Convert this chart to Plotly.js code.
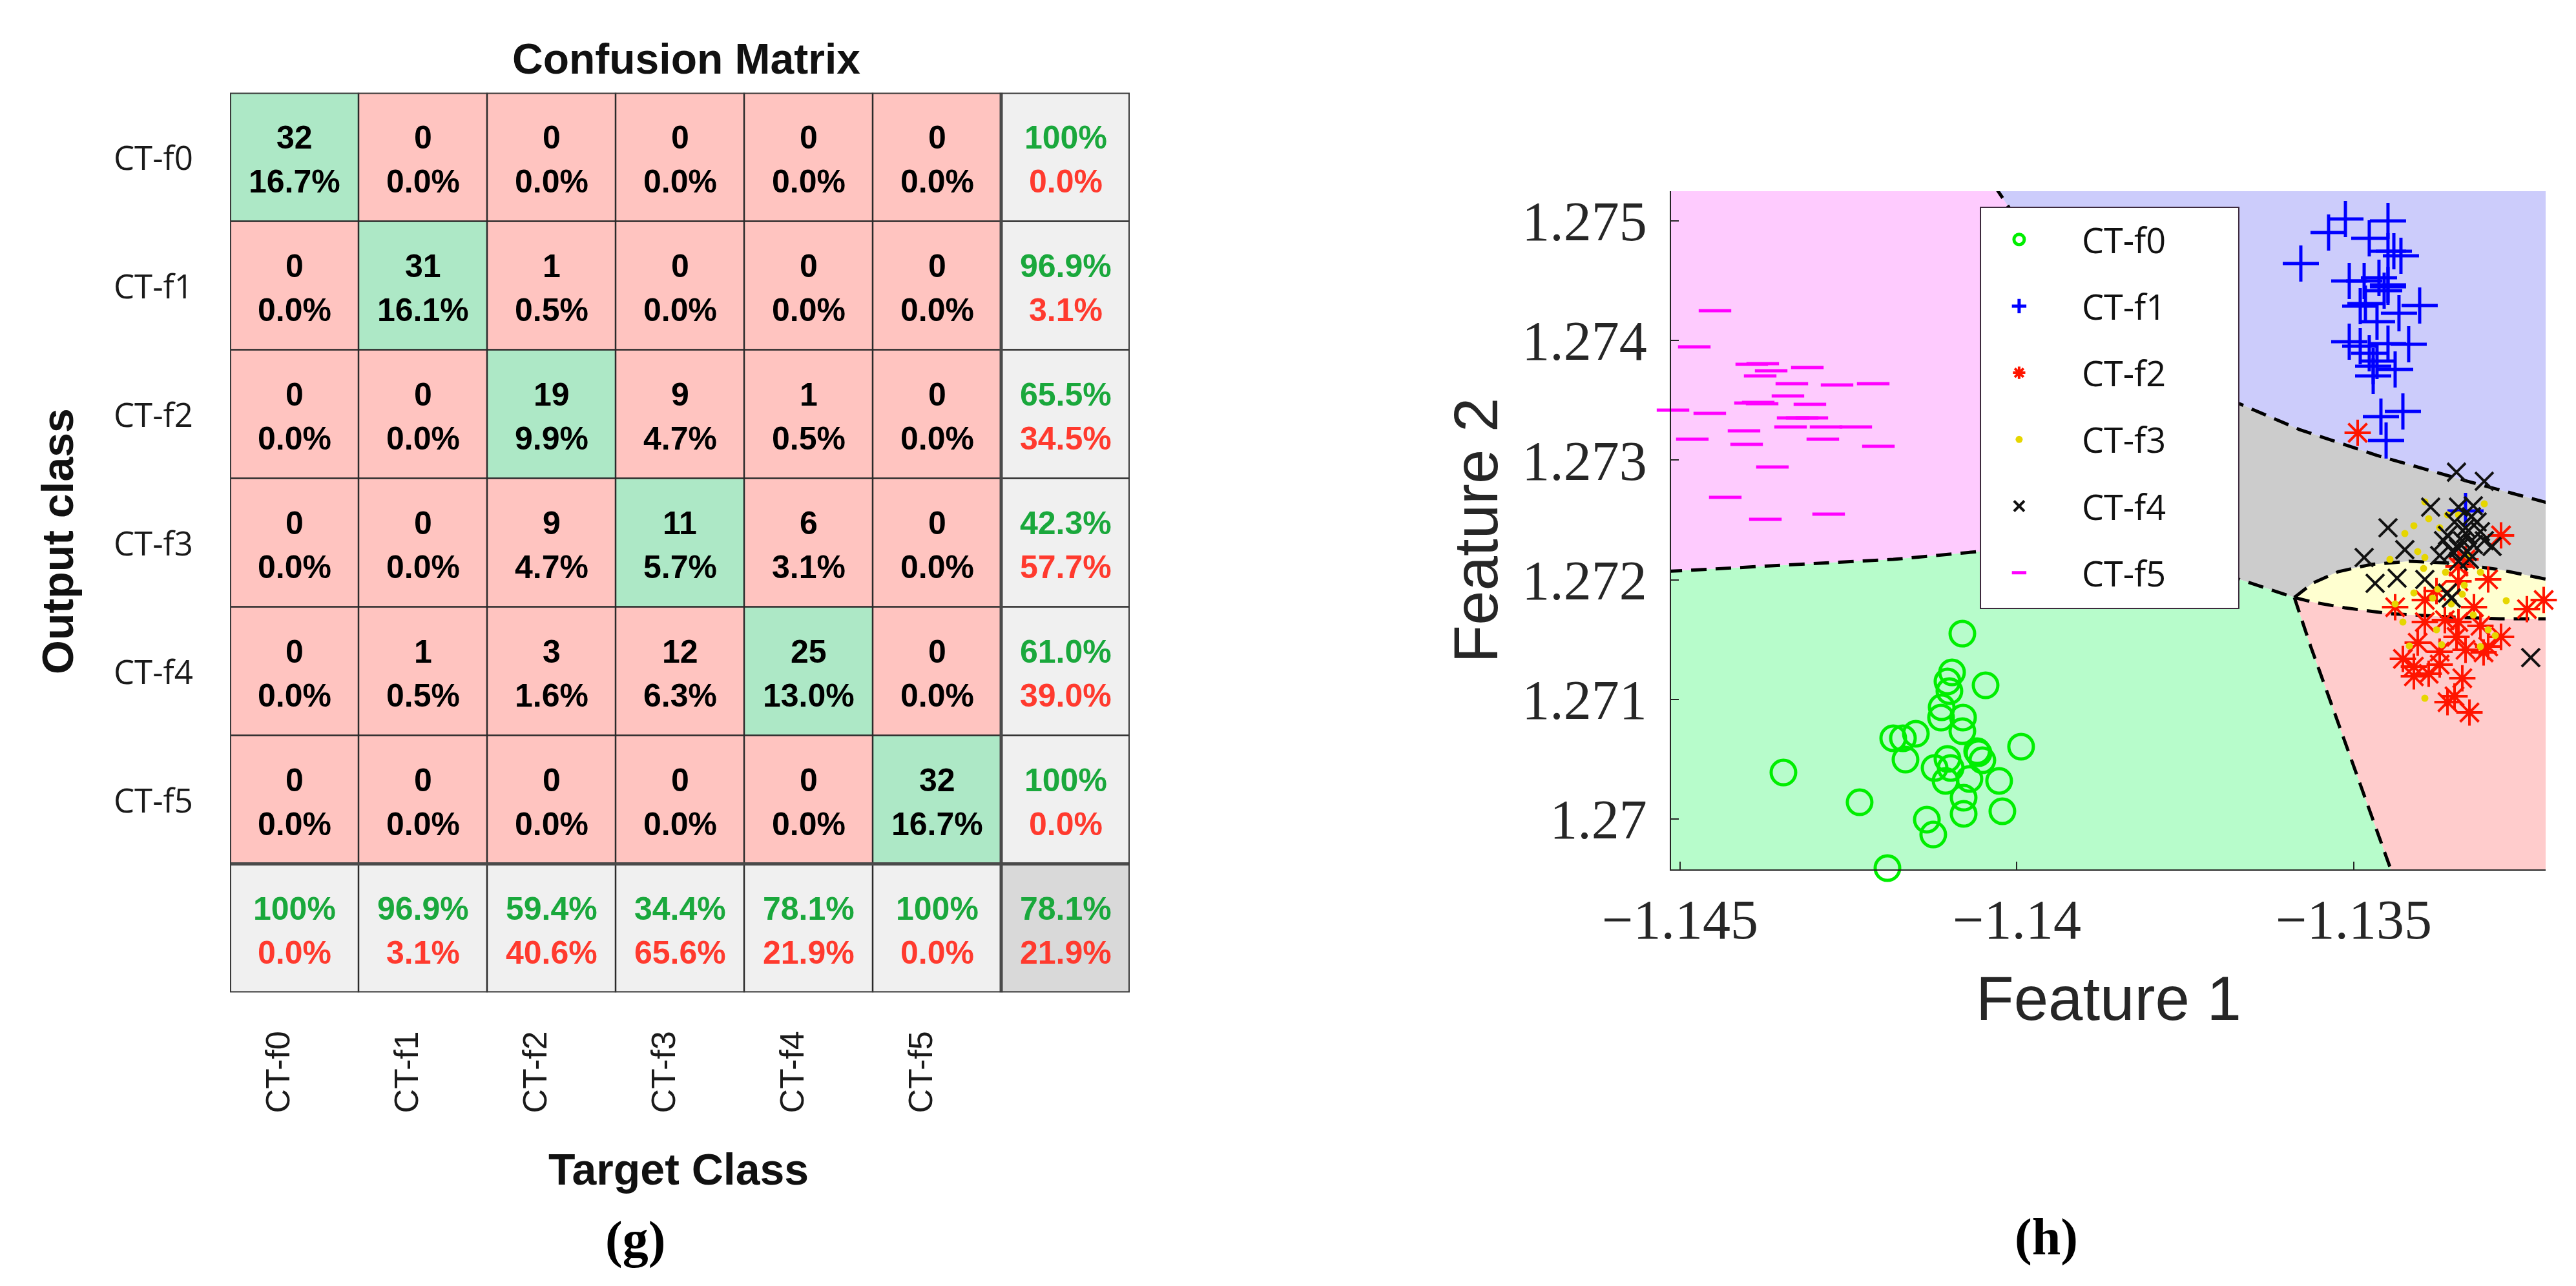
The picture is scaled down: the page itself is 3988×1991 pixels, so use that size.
<!DOCTYPE html>
<html><head><meta charset="utf-8">
<script src="https://cdn.plot.ly/plotly-3.0.1.min.js"></script>
<style>html,body{margin:0;padding:0;background:#fff;}#chart{width:3988px;height:1991px;}</style>
</head><body><div id="chart"></div>
<script>
// ---------------- Confusion matrix (g) ----------------
const classes = ['CT-f0','CT-f1','CT-f2','CT-f3','CT-f4','CT-f5'];
const counts = [
  [32, 0, 0, 0, 0, 0],
  [ 0,31, 1, 0, 0, 0],
  [ 0, 0,19, 9, 1, 0],
  [ 0, 0, 9,11, 6, 0],
  [ 0, 1, 3,12,25, 0],
  [ 0, 0, 0, 0, 0,32]
];

// ---------------- Decision regions (h) ----------------
const pinkX   = [-1.1452,-1.14034,-1.138586,-1.138394,-1.140570,-1.141836,-1.143485,-1.1452];
const pinkY   = [1.2753,1.2753,1.273823,1.272311,1.272236,1.272171,1.272122,1.272070];
const blueX   = [-1.14034,-1.1321,-1.1321,-1.133312,-1.134655,-1.135805,-1.136697,-1.138586];
const blueY   = [1.2753,1.2753,1.272640,1.272824,1.273040,1.273256,1.273472,1.273823];
const grayX   = [-1.138586,-1.136697,-1.135805,-1.134655,-1.133312,-1.1321,-1.1321,-1.132833,-1.133504,-1.134175,-1.134750,-1.135230,-1.135613,-1.135882,-1.136697,-1.138394];
const grayY   = [1.273823,1.273472,1.273256,1.273040,1.272824,1.272640,1.272000,1.272084,1.272138,1.272155,1.272128,1.272068,1.271971,1.271852,1.272003,1.272311];
const yellowX = [-1.135882,-1.135613,-1.135230,-1.134750,-1.134175,-1.133504,-1.132833,-1.1321,-1.1321,-1.132833,-1.133600,-1.134463,-1.135134,-1.135613];
const yellowY = [1.271852,1.271971,1.272068,1.272128,1.272155,1.272138,1.272084,1.272000,1.271674,1.271674,1.271690,1.271717,1.271766,1.271814];
const redX    = [-1.135882,-1.135613,-1.135134,-1.134463,-1.133600,-1.132833,-1.1321,-1.1321,-1.134400,-1.135642];
const redY    = [1.271852,1.271814,1.271766,1.271717,1.271690,1.271674,1.271674,1.2695,1.2695,1.271447];
const greenX  = [-1.1452,-1.143485,-1.141836,-1.140570,-1.138394,-1.136697,-1.135882,-1.135642,-1.134400,-1.1452];
const greenY  = [1.272070,1.272122,1.272171,1.272236,1.272311,1.272003,1.271852,1.271447,1.2695,1.2695];

// dashed boundaries
const bndX = [
  [-1.14034,-1.138586,-1.138394],
  [-1.138586,-1.136697,-1.135805,-1.134655,-1.133312,-1.1321],
  [-1.1452,-1.143485,-1.141836,-1.140570,-1.138394,-1.136697,-1.135882],
  [-1.135882,-1.135613,-1.135230,-1.134750,-1.134175,-1.133504,-1.132833,-1.1321],
  [-1.135882,-1.135613,-1.135134,-1.134463,-1.133600,-1.132833,-1.1321],
  [-1.135882,-1.135642,-1.134400]
];
const bndY = [
  [1.2753,1.273823,1.272311],
  [1.273823,1.273472,1.273256,1.273040,1.272824,1.272640],
  [1.272070,1.272122,1.272171,1.272236,1.272311,1.272003,1.271852],
  [1.271852,1.271971,1.272068,1.272128,1.272155,1.272138,1.272084,1.272000],
  [1.271852,1.271814,1.271766,1.271717,1.271690,1.271674,1.271674],
  [1.271852,1.271447,1.2695]
];

// scatter samples
const f0X = [-1.140810,-1.140963,-1.141031,-1.141002,-1.140465,-1.141117,-1.141126,-1.140800,-1.140810,-1.141836,-1.141692,-1.141500,-1.141654,-1.139938,-1.140590,-1.140513,-1.141031,-1.141222,-1.140983,-1.140705,-1.141059,-1.140264,-1.143466,-1.142335,-1.140791,-1.140216,-1.140791,-1.141337,-1.141242,-1.141922,-1.141596,-1.140570];
const f0Y = [1.271550,1.271226,1.271150,1.271069,1.271118,1.270934,1.270848,1.270848,1.270734,1.270675,1.270675,1.270713,1.270497,1.270605,1.270567,1.270491,1.270502,1.270427,1.270427,1.270335,1.270319,1.270319,1.270389,1.270140,1.270178,1.270065,1.270043,1.269995,1.269870,1.269590,1.269568,1.270551];
const f1X = [-1.135124,-1.135374,-1.134492,-1.134770,-1.134492,-1.134300,-1.134405,-1.135786,-1.135067,-1.134846,-1.134626,-1.134492,-1.134549,-1.134022,-1.134904,-1.134329,-1.134655,-1.135067,-1.134904,-1.134492,-1.134185,-1.134770,-1.134655,-1.134386,-1.134712,-1.134597,-1.134271,-1.134520,-1.134492,-1.133341,-1.134712,-1.134827];
const f1Y = [1.275017,1.274903,1.275000,1.274855,1.274747,1.274709,1.274747,1.274644,1.274498,1.274498,1.274525,1.274450,1.274417,1.274293,1.274288,1.274228,1.274158,1.273991,1.273953,1.273974,1.273969,1.273893,1.273829,1.273758,1.273704,1.273364,1.273407,1.273164,1.274466,1.272576,1.273785,1.274309];
const f2X = [-1.134942,-1.132814,-1.133005,-1.132181,-1.132430,-1.134386,-1.133945,-1.133772,-1.133446,-1.133945,-1.133446,-1.133120,-1.132814,-1.134051,-1.133475,-1.133005,-1.133725,-1.133341,-1.134108,-1.133725,-1.133389,-1.134108,-1.133609,-1.133446,-1.133341,-1.133888,-1.133283,-1.133504,-1.134271,-1.133073,-1.133648,-1.133216];
const f2Y = [1.273229,1.272371,1.272003,1.271831,1.271755,1.271771,1.271831,1.271906,1.272111,1.271647,1.271647,1.271615,1.271523,1.271474,1.271523,1.271442,1.271399,1.271415,1.271274,1.271291,1.271177,1.271193,1.270977,1.271987,1.272171,1.271215,1.270891,1.271026,1.271339,1.271393,1.271663,1.271771];
const f3X = [-1.133945,-1.133888,-1.134108,-1.134242,-1.134051,-1.133945,-1.133725,-1.133446,-1.134463,-1.133964,-1.133638,-1.134108,-1.133830,-1.133360,-1.133389,-1.133120,-1.134271,-1.133772,-1.133696,-1.133120,-1.133005,-1.132900,-1.133226,-1.133945,-1.133753,-1.134386,-1.133063,-1.133609,-1.134175,-1.133552,-1.132737,-1.133312];
const f3Y = [1.272651,1.272511,1.272452,1.272387,1.272236,1.272187,1.272435,1.272543,1.272171,1.272095,1.272063,1.271890,1.271847,1.271955,1.271879,1.272063,1.271647,1.271582,1.271458,1.271442,1.271582,1.271534,1.271706,1.271010,1.271922,1.271798,1.272635,1.272543,1.271447,1.271798,1.271825,1.272203];
const f4X = [-1.133475,-1.133063,-1.133859,-1.133446,-1.133226,-1.134492,-1.134242,-1.134846,-1.133667,-1.133504,-1.133341,-1.133168,-1.133389,-1.133226,-1.133063,-1.132948,-1.133533,-1.133312,-1.133283,-1.133446,-1.134683,-1.134357,-1.133945,-1.133609,-1.133552,-1.132373,-1.133341,-1.133609,-1.133120,-1.133446,-1.133255,-1.133725];
const f4Y = [1.272900,1.272824,1.272608,1.272608,1.272619,1.272435,1.272252,1.272187,1.272327,1.272484,1.272435,1.272484,1.272327,1.272295,1.272327,1.272279,1.272236,1.272236,1.272171,1.272155,1.271971,1.272014,1.272003,1.271890,1.271847,1.271350,1.272387,1.272371,1.272403,1.272263,1.272527,1.272203];
const f5X = [-1.144482,-1.144789,-1.143773,-1.143648,-1.143811,-1.143111,-1.143341,-1.142670,-1.142133,-1.143399,-1.143840,-1.143782,-1.143073,-1.145105,-1.144559,-1.143322,-1.143044,-1.143360,-1.142833,-1.142392,-1.144051,-1.144818,-1.142881,-1.144012,-1.142056,-1.143629,-1.144329,-1.142795,-1.143734,-1.143955,-1.143936,-1.143188];
const f5Y = [1.274250,1.273947,1.273807,1.273748,1.273704,1.273775,1.273640,1.273629,1.273640,1.273537,1.273483,1.273472,1.273467,1.273418,1.273391,1.273353,1.273353,1.273278,1.273278,1.273278,1.273245,1.273175,1.273175,1.273132,1.273116,1.272943,1.272689,1.272549,1.272506,1.273478,1.273802,1.273353];

const xTickVals = [-1.145,-1.14,-1.135];
const xTickText = ['\u22121.145','\u22121.14','\u22121.135'];
const yTickVals = [1.27,1.271,1.272,1.273,1.274,1.275];
const yTickText = ['1.27','1.271','1.272','1.273','1.274','1.275'];

// ---------------- build ----------------
const SANS = 'Liberation Sans, Arial, sans-serif';
const SERIF = 'Liberation Serif, Times New Roman, serif';
const UI = 'Open Sans, Noto Sans, sans-serif';
const GREEN_T = '#1AA83C', RED_T = '#FF3A2E';
const n = classes.length;
let total = 0; counts.forEach(r => r.forEach(v => total += v));
const pct = v => (Math.abs(v - 100) < 1e-9 ? '100%' : v.toFixed(1) + '%');

// matrix axis domains (paper fractions)
const MX = [0.089268, 0.438566], MY = [0.228277, 0.927926];
const px = u => MX[0] + u / (n + 1) * (MX[1] - MX[0]);
const py = v => MY[1] - v / (n + 1) * (MY[1] - MY[0]);

const z = [], cellPos = [];
for (let r = 0; r <= n; r++) {
  const row = [];
  for (let c = 0; c <= n; c++) {
    if (r < n && c < n) row.push(r === c ? 1 : 0);
    else if (r === n && c === n) row.push(3);
    else row.push(2);
  }
  z.push(row);
}
for (let i = 0; i <= n; i++) cellPos.push(i + 0.5);

const ann = [];
const addCell = (c, r, t1, col1, t2, col2) => {
  ann.push({xref:'x', yref:'y', x:c + 0.5, y:r + 0.5 - 0.15, text:String(t1), showarrow:false,
            font:{family:SANS, size:50, color:col1, weight:'bold'}, xanchor:'center', yanchor:'middle'});
  ann.push({xref:'x', yref:'y', x:c + 0.5, y:r + 0.5 + 0.19, text:String(t2), showarrow:false,
            font:{family:SANS, size:50, color:col2, weight:'bold'}, xanchor:'center', yanchor:'middle'});
};
for (let r = 0; r < n; r++) {
  let rs = 0; for (let c = 0; c < n; c++) rs += counts[r][c];
  for (let c = 0; c < n; c++) addCell(c, r, counts[r][c], '#000', pct(counts[r][c] / total * 100), '#000');
  const ok = counts[r][r] / rs * 100;
  addCell(n, r, pct(ok), GREEN_T, pct(100 - ok), RED_T);
}
let diag = 0;
for (let c = 0; c < n; c++) {
  let cs = 0; for (let r = 0; r < n; r++) cs += counts[r][c];
  diag += counts[c][c];
  const ok = counts[c][c] / cs * 100;
  addCell(c, n, pct(ok), GREEN_T, pct(100 - ok), RED_T);
}
const okAll = diag / total * 100;
addCell(n, n, pct(okAll), GREEN_T, pct(100 - okAll), RED_T);

classes.forEach((name, i) => {
  ann.push({xref:'paper', yref:'paper', x:px(-0.276), y:py(i + 0.5), text:name, showarrow:false,
            font:{family:UI, size:51, color:'#1a1a1a'}, xanchor:'right', yanchor:'middle'});
  ann.push({xref:'paper', yref:'paper', x:px(i + 0.5 - 0.13), y:py(n + 1.62), text:name, showarrow:false, textangle:-90,
            font:{family:SANS, size:52, color:'#1a1a1a'}, xanchor:'center', yanchor:'middle'});
});
ann.push({xref:'paper', yref:'paper', x:0.2663, y:0.9543, text:'Confusion Matrix', showarrow:false,
          font:{family:SANS, size:66, color:'#111', weight:'bold'}, xanchor:'center', yanchor:'middle'});
ann.push({xref:'paper', yref:'paper', x:0.2635, y:0.0909, text:'Target Class', showarrow:false,
          font:{family:SANS, size:68, color:'#111', weight:'bold'}, xanchor:'center', yanchor:'middle'});
ann.push({xref:'paper', yref:'paper', x:0.0223, y:0.5791, text:'Output class', showarrow:false, textangle:-90,
          font:{family:SANS, size:68, color:'#111', weight:'bold'}, xanchor:'center', yanchor:'middle'});
ann.push({xref:'paper', yref:'paper', x:0.2465, y:0.0357, text:'(g)', showarrow:false,
          font:{family:SERIF, size:80, color:'#000', weight:'bold'}, xanchor:'center', yanchor:'middle'});
ann.push({xref:'paper', yref:'paper', x:0.7944, y:0.0377, text:'(h)', showarrow:false,
          font:{family:SERIF, size:80, color:'#000', weight:'bold'}, xanchor:'center', yanchor:'middle'});
ann.push({xref:'paper', yref:'paper', x:0.8187, y:0.2240, text:'Feature 1', showarrow:false,
          font:{family:SANS, size:96, color:'#262626'}, xanchor:'center', yanchor:'middle'});
ann.push({xref:'paper', yref:'paper', x:0.5728, y:0.5876, text:'Feature 2', showarrow:false, textangle:-90,
          font:{family:SANS, size:96, color:'#262626'}, xanchor:'center', yanchor:'middle'});

// grid shapes of the matrix
const shapes = [];
for (let i = 1; i < n; i++) {
  shapes.push({type:'line', xref:'x', yref:'y', x0:i, x1:i, y0:0, y1:n + 1, line:{color:'#2a2a2a', width:2.5}, layer:'above'});
  shapes.push({type:'line', xref:'x', yref:'y', x0:0, x1:n + 1, y0:i, y1:i, line:{color:'#2a2a2a', width:2.5}, layer:'above'});
}
shapes.push({type:'line', xref:'x', yref:'y', x0:n, x1:n, y0:0, y1:n + 1, line:{color:'#4a4a4a', width:5}, layer:'above'});
shapes.push({type:'line', xref:'x', yref:'y', x0:0, x1:n + 1, y0:n, y1:n, line:{color:'#4a4a4a', width:5}, layer:'above'});
shapes.push({type:'rect', xref:'x', yref:'y', x0:0, x1:n + 1, y0:0, y1:n + 1, line:{color:'#3a3a3a', width:4}, layer:'above'});
// legend box
shapes.push({type:'rect', xref:'paper', yref:'paper', x0:0.76881, x1:0.86910, y0:0.52687, y1:0.83877,
             fillcolor:'#ffffff', line:{color:'#3d2a3d', width:2}, layer:'above'});

const traces = [];
traces.push({type:'heatmap', x:cellPos, y:cellPos, z:z, xaxis:'x', yaxis:'y', zmin:0, zmax:3,
  colorscale:[[0,'#FFC4C0'],[1/3,'#ADE8C6'],[2/3,'#F0F0F0'],[1,'#D9D9D9']], showscale:false, hoverinfo:'skip'});

const region = (x, y, col) => ({type:'scatter', x:x, y:y, xaxis:'x2', yaxis:'y2', mode:'lines', fill:'toself',
  fillcolor:col, line:{width:0, color:col}, showlegend:false, hoverinfo:'skip'});
traces.push(region(pinkX, pinkY, '#FECBFE'));
traces.push(region(blueX, blueY, '#CCCCFB'));
traces.push(region(grayX, grayY, '#CCCCCC'));
traces.push(region(greenX, greenY, '#B7FCCB'));
traces.push(region(redX, redY, '#FFCCCC'));
traces.push(region(yellowX, yellowY, '#FFFFD0'));

const bx = [], by = [];
bndX.forEach((arr, i) => { bx.push(...arr, null); by.push(...bndY[i], null); });
traces.push({type:'scatter', x:bx, y:by, xaxis:'x2', yaxis:'y2', mode:'lines', connectgaps:false,
  line:{color:'#000', width:5, dash:'24px,14px'}, showlegend:false, hoverinfo:'skip'});

const pts = (name, x, y, marker) => ({type:'scatter', name:name, x:x, y:y, xaxis:'x2', yaxis:'y2', mode:'markers',
  marker:marker, cliponaxis:false, legendgroup:name, hoverinfo:'skip'});
traces.push(pts('CT-f0', f0X, f0Y, {symbol:'circle-open', size:38, color:'#00EE00', line:{width:5, color:'#00EE00'}}));
traces.push(pts('CT-f1', f1X, f1Y, {symbol:'cross-thin', size:40, color:'#0000FF', line:{width:5, color:'#0000FF'}}));
traces.push(pts('CT-f2', f2X, f2Y, {symbol:'asterisk', size:34, color:'#FF1500', line:{width:4, color:'#FF1500'}}));
traces.push(pts('CT-f3', f3X, f3Y, {symbol:'circle', size:11, color:'#E6D600', line:{width:0}}));
traces.push(pts('CT-f4', f4X, f4Y, {symbol:'x-thin', size:28, color:'#111', line:{width:4, color:'#111'}}));
traces.push(pts('CT-f5', f5X, f5Y, {symbol:'line-ew', size:36, color:'#FF00FF', line:{width:5, color:'#FF00FF'}}));

const layout = {
  width:3988, height:1991, margin:{l:0, r:0, t:0, b:0}, paper_bgcolor:'#fff', plot_bgcolor:'rgba(0,0,0,0)',
  showlegend:true,
  xaxis:{domain:MX, range:[0, n + 1], anchor:'y', showgrid:false, zeroline:false,
         showticklabels:false, ticks:'', showline:false, fixedrange:true},
  yaxis:{domain:MY, range:[n + 1, 0], anchor:'x', showgrid:false, zeroline:false,
         showticklabels:false, ticks:'', showline:false, fixedrange:true},
  xaxis2:{domain:[0.648696, 0.988215], range:[-1.145134, -1.132152], anchor:'y2', showgrid:false, zeroline:false,
          tickvals:xTickVals, ticktext:xTickText, ticks:'inside', ticklen:12, tickwidth:2, tickcolor:'#262626',
          showline:true, linewidth:2, linecolor:'#262626', ticklabelstandoff:2,
          tickfont:{family:SERIF, size:86, color:'#262626'}},
  yaxis2:{domain:[0.323958, 0.851331], range:[1.269579, 1.275249], anchor:'x2', showgrid:false, zeroline:false,
          tickvals:yTickVals, ticktext:yTickText, ticks:'inside', ticklen:12, tickwidth:2, tickcolor:'#262626',
          showline:true, linewidth:2, linecolor:'#262626', ticklabelstandoff:18,
          tickfont:{family:SERIF, size:86, color:'#262626'}},
  legend:{x:0.7595, y:0.8347, xanchor:'left', yanchor:'top', bgcolor:'rgba(0,0,0,0)', borderwidth:0,
          font:{family:UI, size:54, color:'#111'}, itemwidth:184, traceorder:'grouped', tracegroupgap:30},
  shapes:shapes, annotations:ann
};
Plotly.newPlot('chart', traces, layout, {staticPlot:true, displayModeBar:false});
</script></body></html>
